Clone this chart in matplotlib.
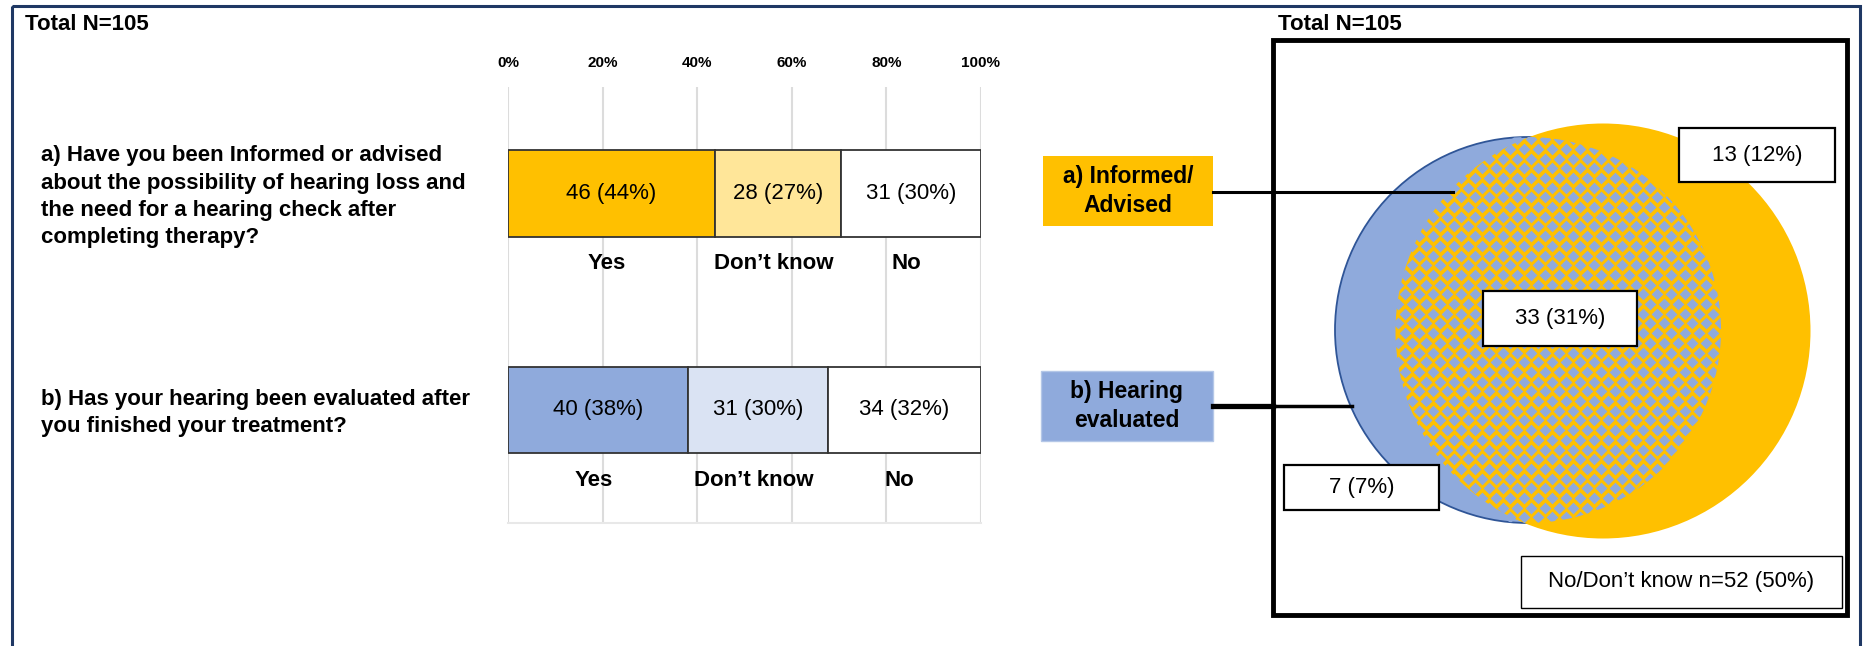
import numpy as np
import matplotlib.pyplot as plt
from matplotlib.patches import Rectangle, Circle
from matplotlib.transforms import blended_transform_factory

plt.rcParams['font.family'] = ['Liberation Sans', 'DejaVu Sans']

# ---- data ----
total = 105
questions = ['a) Have you been Informed or advised\nabout the possibility of hearing loss and\n'
             'the need for a hearing check after\ncompleting therapy?',
             'b) Has your hearing been evaluated after\nyou finished your treatment?']
answers = ['Yes', 'Don’t know', 'No']
yes_n = [46, 40]
dk_n = [28, 31]
no_n = [31, 34]
bar_colors = [['#FFC000', '#FFE699', 'white'],
              ['#8FAADC', '#DAE3F3', 'white']]
ticks = [0, 20, 40, 60, 80, 100]

# venn counts
only_informed = 13
both = 33
only_evaluated = 7
neither = 52

def lab(n):
    return f'{n} ({round(100 * n / total)}%)'

W, H = 1864, 646
fig = plt.figure(figsize=(W / 100, H / 100), dpi=100)

# overlay in pixel coords for frame / venn
ov = fig.add_axes([0, 0, 1, 1])
ov.set_xlim(0, W)
ov.set_ylim(H, 0)
ov.axis('off')

navy = '#1F3864'
ov.add_patch(Rectangle((12, 6), 1848, 700, fill=False, ec=navy, lw=2.2))
ov.text(25, 25, f'Total N={total}', fontsize=16, fontweight='bold', va='center', ha='left')

# ---- stacked bars ----
ax = fig.add_axes([508 / W, 1 - 523 / H, 473 / W, 436 / H])
ax.patch.set_alpha(0)
for i, counts in enumerate(zip(yes_n, dk_n, no_n)):
    left = 0
    for j, n in enumerate(counts):
        w = 100 * n / total
        ax.barh(i, w, left=left, height=0.4, color=bar_colors[i][j],
                edgecolor='#333333', lw=1.3, zorder=2)
        ax.text(left + w / 2, i, lab(n), ha='center', va='center', fontsize=16, zorder=3)
        ax.text(left + w / 2 - 1, i + 0.325, answers[j], ha='center', va='center',
                fontsize=16, fontweight='bold', zorder=3)
        left += w
    tr = blended_transform_factory(ax.transAxes, ax.transData)
    ax.text(-0.987, i + 0.015, questions[i], transform=tr, ha='left', va='center',
            fontsize=16, fontweight='bold', linespacing=1.4)

ax.set_xlim(0, 100)
ax.set_ylim(1.522, -0.492)
ax.set_xticks(ticks)
ax.set_xticklabels([f'{t}%' for t in ticks], fontsize=11, fontweight='bold')
ax.xaxis.tick_top()
ax.tick_params(axis='x', length=0, pad=12)
ax.set_yticks([])
ax.grid(axis='x', color='#DCDCDC', lw=1.5)
ax.set_axisbelow(True)
for s in ['top', 'left', 'right']:
    ax.spines[s].set_visible(False)
ax.spines['bottom'].set_color('#E8E8E8')
ax.spines['bottom'].set_linewidth(1.5)

# ---- venn ----
yel, blu = '#FFC000', '#8FAADC'
cy = (1603, 331, 207.5)
cb = (1528, 330, 193)
ov.add_patch(Circle(cb[:2], cb[2], fc=blu, ec='#2F5597', lw=1.3, zorder=1))
ov.add_patch(Circle(cy[:2], cy[2], fc=yel, ec='none', zorder=2))
clip = Circle(cb[:2], cb[2], fc='none', ec='none')
ov.add_patch(clip)
# diamond pattern in the overlap
gx, gy = np.meshgrid(np.arange(1300, 1830, 14.0), np.arange(110, 560, 9.7))
gx = gx + (np.arange(gx.shape[0])[:, None] % 2) * 7
inside = ((gx - cy[0]) ** 2 + (gy - cy[1]) ** 2 < (cy[2] + 4) ** 2) & \
         ((gx - cb[0]) ** 2 + (gy - cb[1]) ** 2 < (cb[2] + 4) ** 2)
pat = ov.scatter(gx[inside], gy[inside], marker='D', s=36, color=blu, lw=0, zorder=3)
pat.set_clip_path(clip)

ov.add_patch(Rectangle((1273, 40), 574, 575, fill=False, ec='black', lw=3.5, zorder=6))
ov.text(1278, 25, f'Total N={total}', fontsize=16, fontweight='bold', va='center', ha='left')

# label boxes and connectors
ov.add_patch(Rectangle((1043, 156), 170, 70, fc=yel, ec='none', zorder=5))
ov.text(1128, 191, 'a) Informed/\nAdvised', ha='center', va='center', fontsize=16.5,
        fontweight='bold', linespacing=1.3, zorder=6)
ov.add_patch(Rectangle((1041, 371), 172, 70, fc=blu, ec='#B4C7E7', lw=1, zorder=5))
ov.text(1127, 406, 'b) Hearing\nevaluated', ha='center', va='center', fontsize=16.5,
        fontweight='bold', linespacing=1.3, zorder=6)
ov.plot([1213, 1453], [192, 192], color='black', lw=2.2, zorder=7)
ov.plot([1213, 1273], [406, 406], color='black', lw=3.8, zorder=7)
ov.plot([1273, 1352], [406, 406], color='black', lw=2.5, zorder=7)

# count boxes
boxes = [((1679, 128, 156, 54), lab(only_informed), 1.6),
         ((1483, 291, 154, 55), lab(both), 1.6),
         ((1284, 465, 155, 45), lab(only_evaluated), 1.6),
         ((1521, 556, 321, 52), f'No/Don’t know n={neither} ({round(100 * neither / total)}%)', 1.0)]
for (x0, y0, w, h), txt, lw in boxes:
    ov.add_patch(Rectangle((x0, y0), w, h, fc='white', ec='black', lw=lw, zorder=8))
    ov.text(x0 + w / 2, y0 + h / 2, txt, ha='center', va='center', fontsize=16, zorder=9)

fig.savefig('out.png', dpi=100)
